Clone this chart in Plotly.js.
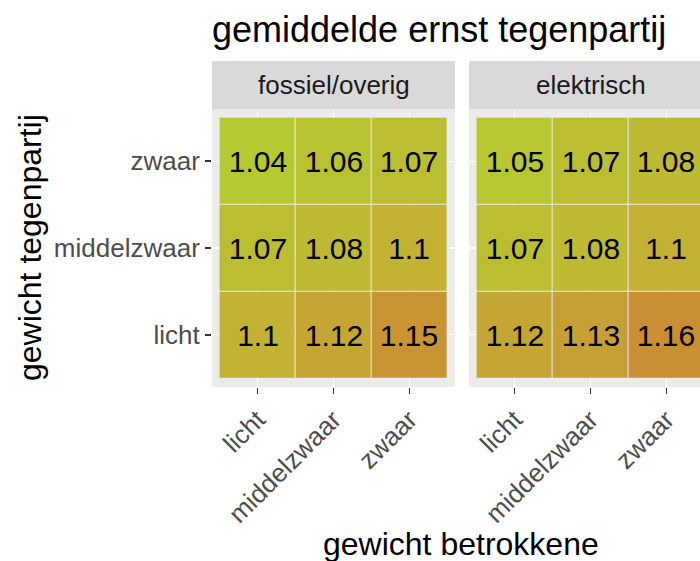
<!DOCTYPE html>
<html>
<head>
<meta charset="utf-8">
<script src="https://cdn.plot.ly/plotly-3.0.1.min.js"></script>
<style>body{margin:0;background:#fff}</style>
</head>
<body>
<div id="chart" style="width:700px;height:561px"></div>
<script>
// categories (bottom to top for rows, left to right for columns)
var gewichten = ['licht', 'middelzwaar', 'zwaar'];
var facetten = ['fossiel/overig', 'elektrisch'];

// rows follow gewichten order: licht, middelzwaar, zwaar (tegenpartij)
var fossiel = [
    [1.1, 1.12, 1.15],
    [1.07, 1.08, 1.1],
    [1.04, 1.06, 1.07]
];
var elektrisch = [
    [1.12, 1.13, 1.16],
    [1.07, 1.08, 1.1],
    [1.05, 1.07, 1.08]
];

var kleuren = [[0, '#b4ca30'], [0.5, '#c3b234'], [1, '#ca8e33']];
var font = 'Liberation Sans, Arial, sans-serif';

function tegel(z, xa, ya) {
    return {
        type: 'heatmap',
        x: gewichten,
        y: gewichten,
        z: z,
        xaxis: xa,
        yaxis: ya,
        zmin: 1.04,
        zmax: 1.16,
        colorscale: kleuren,
        showscale: false,
        xgap: 1,
        ygap: 1,
        texttemplate: '%{z}',
        textfont: { size: 30, color: '#000', family: font },
        hoverinfo: 'skip'
    };
}

var data = [tegel(fossiel, 'x', 'y'), tegel(elektrisch, 'x2', 'y2')];

var yDom = [(561 - 387) / 561, (561 - 109) / 561];
var stripTop = (561 - 61) / 561;

var asBasis = {
    type: 'category',
    categoryarray: gewichten,
    showgrid: true,
    gridcolor: '#ffffff',
    gridwidth: 1.2,
    zeroline: false,
    showline: false,
    ticks: 'outside',
    ticklen: 6,
    tickwidth: 1.8,
    tickcolor: '#333333',
    tickfont: { size: 26, color: '#4d4d4d', family: font }
};

function label(tekst, x, y, size, kleur, hoek) {
    return {
        text: tekst, xref: 'paper', yref: 'paper', x: x / 700, y: (561 - y) / 561,
        xanchor: 'center', yanchor: 'middle', showarrow: false, textangle: hoek || 0,
        font: { size: size, color: kleur }
    };
}

var layout = {
    width: 700,
    height: 561,
    margin: { l: 0, r: 0, t: 0, b: 0 },
    paper_bgcolor: '#ffffff',
    plot_bgcolor: '#ebebeb',
    font: { family: font },
    xaxis: Object.assign({}, asBasis, {
        domain: [212 / 700, 455 / 700], range: [-0.6, 2.6], tickangle: -45, anchor: 'y'
    }),
    yaxis: Object.assign({}, asBasis, {
        domain: yDom, range: [-0.6, 2.6], anchor: 'x'
    }),
    xaxis2: Object.assign({}, asBasis, {
        domain: [469 / 700, 1], range: [-0.6, -0.6 + 231 / (243 / 3.2)], tickangle: -45, anchor: 'y2'
    }),
    yaxis2: Object.assign({}, asBasis, {
        domain: yDom, range: [-0.6, 2.6], anchor: 'x2', showticklabels: false, ticks: ''
    }),
    shapes: [
        { type: 'rect', xref: 'paper', yref: 'paper', x0: 212 / 700, x1: 455 / 700, y0: yDom[1], y1: stripTop, fillcolor: '#d9d9d9', line: { width: 0 } },
        { type: 'rect', xref: 'paper', yref: 'paper', x0: 469 / 700, x1: 1, y0: yDom[1], y1: stripTop, fillcolor: '#d9d9d9', line: { width: 0 } }
    ],
    annotations: [
        label(facetten[0], 333.5, 85, 26, '#1a1a1a'),
        label(facetten[1], 590.5, 85, 26, '#1a1a1a'),
        Object.assign(label('gemiddelde ernst tegenpartij', 210, 30, 36, '#000'), { xanchor: 'left' }),
        label('gewicht tegenpartij', 30, 248, 32, '#000', -90),
        label('gewicht betrokkene', 461, 544, 32, '#000')
    ]
};

Plotly.newPlot('chart', data, layout, { staticPlot: true });
</script>
</body>
</html>
